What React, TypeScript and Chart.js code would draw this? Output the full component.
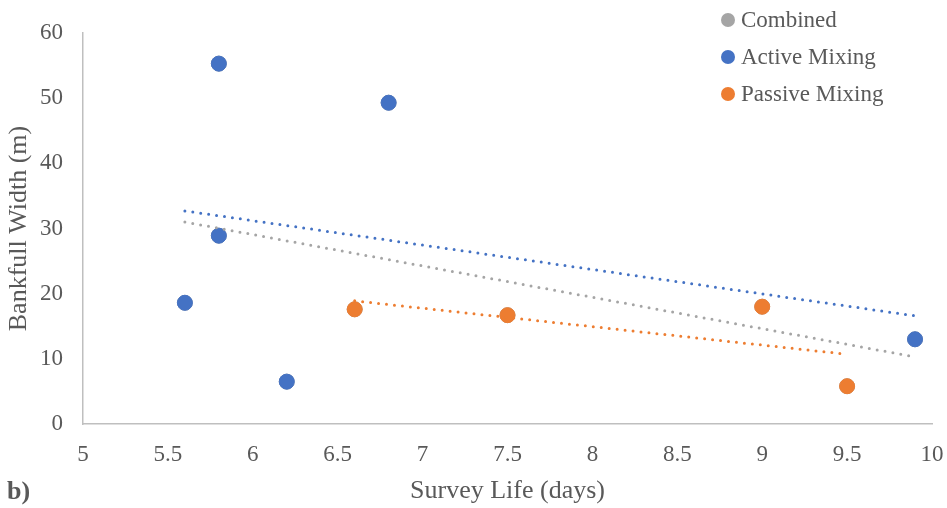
import React, { useEffect, useRef } from "react";
import { Chart, registerables } from "chart.js";

Chart.register(...registerables);

const activeX = [5.6, 5.8, 5.8, 6.2, 6.8, 9.9];
const activeY = [18.6, 55.3, 28.9, 6.5, 49.3, 13.0];
const passiveX = [6.6, 7.5, 9.0, 9.5];
const passiveY = [17.6, 16.7, 18.0, 5.8];
const combinedX = [...activeX, ...passiveX];
const combinedY = [...activeY, ...passiveY];

const trendActiveX = [5.6, 9.9];
const trendActiveY = [32.7, 16.6];
const trendCombinedX = [5.6, 9.9];
const trendCombinedY = [31.0, 10.3];
const trendPassiveX = [6.6, 9.5];
const trendPassiveY = [18.9, 10.7];

const legendLabels = ["Combined", "Active Mixing", "Passive Mixing"];
const xTitle = "Survey Life (days)";
const yTitle = "Bankfull Width (m)";
const panelLabel = "b)";

const GRAY = "#A5A5A5";
const BLUE = "#4472C4";
const ORANGE = "#ED7D31";
const TEXT = "#595959";
const FONT = "'Liberation Serif', 'Times New Roman', serif";

const pts = (xs: number[], ys: number[]) => xs.map((x, i) => ({ x, y: ys[i] }));

const overlayPlugin = {
  id: "overlay",
  afterDraw(chart: any) {
    const ctx = chart.ctx;
    const area = chart.chartArea;
    ctx.save();
    ctx.fillStyle = TEXT;
    // x title
    ctx.font = `26px ${FONT}`;
    ctx.textAlign = "center";
    ctx.textBaseline = "alphabetic";
    ctx.fillText(xTitle, (area.left + area.right) / 2, 498);
    // y title
    ctx.save();
    ctx.translate(26, (area.top + area.bottom) / 2);
    ctx.rotate(-Math.PI / 2);
    ctx.fillText(yTitle, 0, 0);
    ctx.restore();
    // legend
    const colors = [GRAY, BLUE, ORANGE];
    const rows = [20, 57, 94];
    ctx.font = `23px ${FONT}`;
    ctx.textAlign = "left";
    ctx.textBaseline = "middle";
    legendLabels.forEach((lab, i) => {
      ctx.beginPath();
      ctx.fillStyle = colors[i];
      ctx.arc(728, rows[i], 7, 0, Math.PI * 2);
      ctx.fill();
      ctx.fillStyle = TEXT;
      ctx.fillText(lab, 741, rows[i] + 1);
    });
    // panel label
    ctx.font = `bold 26px ${FONT}`;
    ctx.textBaseline = "alphabetic";
    ctx.fillStyle = TEXT;
    ctx.fillText(panelLabel, 7, 499);
    ctx.restore();
  },
};

export default function App() {
  const ref = useRef<HTMLCanvasElement | null>(null);
  useEffect(() => {
    document.body.style.margin = "0";
    const canvas = ref.current!;
    const trend = (color: string, xs: number[], ys: number[], order: number) => ({
      type: "scatter" as const,
      data: pts(xs, ys),
      showLine: true,
      borderColor: color,
      backgroundColor: color,
      borderWidth: 3,
      borderDash: [0, 8],
      borderCapStyle: "round" as const,
      pointRadius: 0,
      pointHoverRadius: 0,
      order,
    });
    const chart = new Chart(canvas, {
      type: "scatter",
      data: {
        datasets: [
          {
            label: legendLabels[0],
            data: pts(combinedX, combinedY),
            backgroundColor: GRAY,
            borderColor: GRAY,
            pointRadius: 7.5,
            order: 10,
          },
          {
            label: legendLabels[1],
            data: pts(activeX, activeY),
            backgroundColor: BLUE,
            borderColor: BLUE,
            pointRadius: 7.5,
            order: 6,
          },
          {
            label: legendLabels[2],
            data: pts(passiveX, passiveY),
            backgroundColor: ORANGE,
            borderColor: ORANGE,
            pointRadius: 7.5,
            order: 5,
          },
          trend(GRAY, trendCombinedX, trendCombinedY, 3) as any,
          trend(BLUE, trendActiveX, trendActiveY, 2) as any,
          trend(ORANGE, trendPassiveX, trendPassiveY, 1) as any,
        ],
      },
      options: {
        animation: false,
        responsive: false,
        devicePixelRatio: 1,
        layout: { padding: { top: 33, right: 15, left: 0, bottom: 0 } },
        plugins: {
          legend: { display: false },
          tooltip: { enabled: false },
          title: { display: false },
        },
        scales: {
          x: {
            type: "linear",
            min: 5,
            max: 10,
            grid: { display: false, drawTicks: false },
            border: { display: true, color: "#BFBFBF", width: 1.5 },
            ticks: {
              stepSize: 0.5,
              color: TEXT,
              padding: 17,
              font: { family: FONT, size: 23 },
              maxRotation: 0,
              autoSkip: false,
              callback: (v: any) => String(Math.round(Number(v) * 10) / 10),
            },
            afterFit: (s: any) => {
              s.height = 84;
              s.paddingLeft = 0;
              s.paddingRight = 0;
            },
          },
          y: {
            type: "linear",
            min: 0,
            max: 60,
            grid: { display: false, drawTicks: false },
            border: { display: true, color: "#BFBFBF", width: 1.5 },
            ticks: {
              stepSize: 10,
              color: TEXT,
              padding: 20,
              font: { family: FONT, size: 23 },
            },
            afterFit: (s: any) => {
              s.width = 83;
              s.paddingTop = 0;
              s.paddingBottom = 0;
            },
          },
        },
      },
      plugins: [overlayPlugin],
    });
    return () => chart.destroy();
  }, []);
  return (
    <div style={{ width: 947, height: 508, background: "#fff" }}>
      <canvas ref={ref} width={947} height={508} style={{ display: "block" }} />
    </div>
  );
}
